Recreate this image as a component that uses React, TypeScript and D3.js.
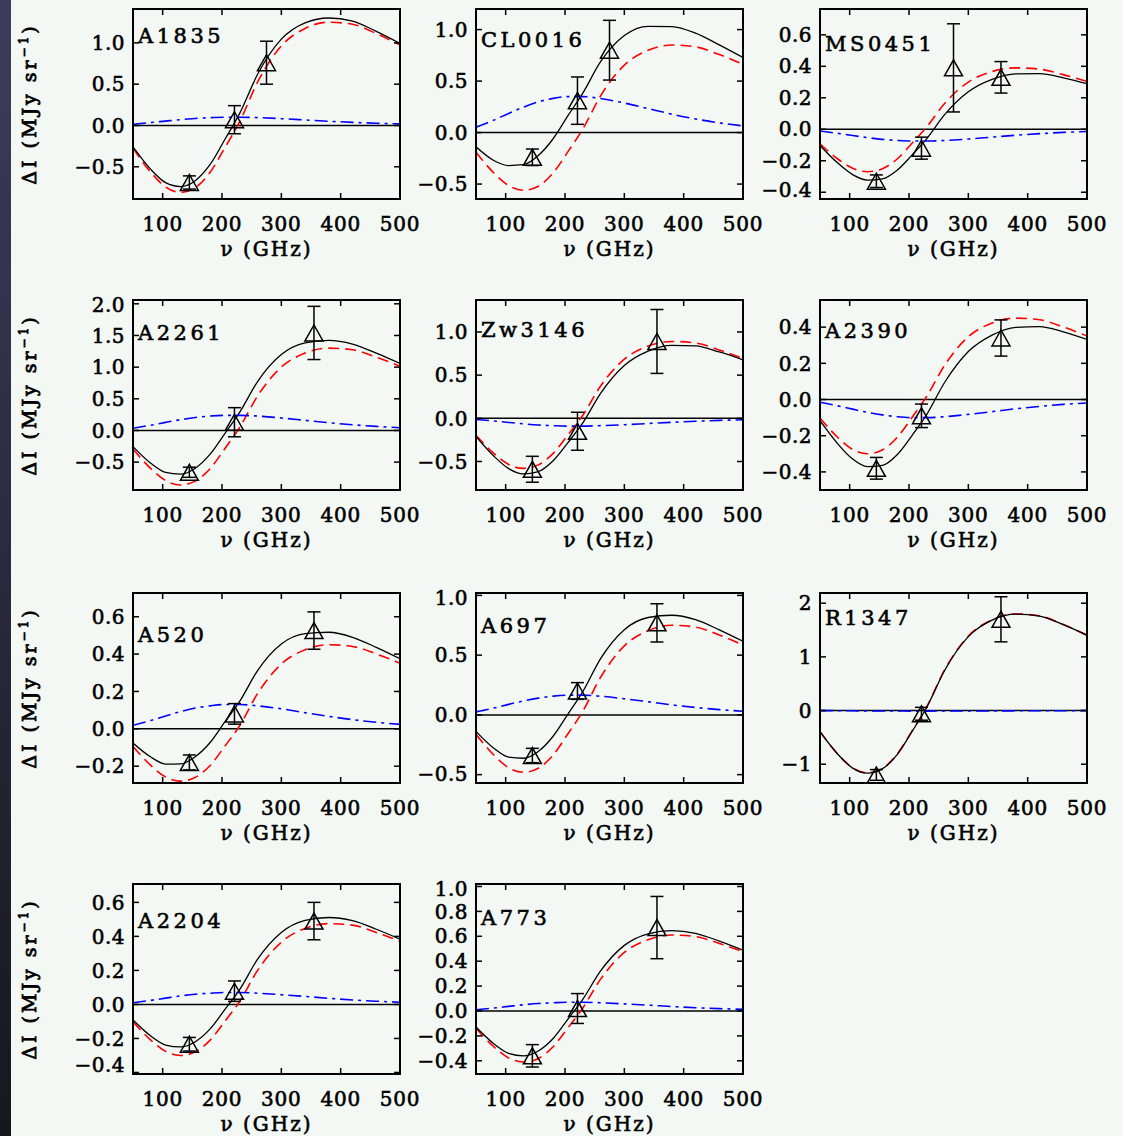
import React from "react";
import * as d3 from "d3";

// Frequency grid (GHz) on which the model spectra are tabulated
const FREQS = [50, 80, 105, 130, 155, 180, 205, 230, 260, 300, 340, 380, 420, 460, 500];

const CLUSTERS = ["A1835", "CL0016", "MS0451", "A2261", "Zw3146", "A2390", "A520", "A697", "R1347", "A2204", "A773"];

// Thermal SZ model, MJy/sr
const THERMAL = [
  [-0.275, -0.567, -0.745, -0.81, -0.753, -0.567, -0.267, 0.05, 0.525, 0.963, 1.175, 1.25, 1.225, 1.113, 0.975],
  [-0.19, -0.392, -0.515, -0.56, -0.521, -0.392, -0.185, 0.034, 0.357, 0.655, 0.799, 0.85, 0.833, 0.757, 0.663],
  [-0.092, -0.189, -0.248, -0.27, -0.251, -0.189, -0.089, 0.016, 0.164, 0.3, 0.367, 0.39, 0.382, 0.347, 0.304],
  [-0.292, -0.602, -0.791, -0.86, -0.8, -0.602, -0.284, 0.052, 0.546, 1.001, 1.222, 1.3, 1.274, 1.157, 1.014],
  [-0.197, -0.406, -0.534, -0.58, -0.539, -0.406, -0.191, 0.036, 0.374, 0.685, 0.837, 0.89, 0.872, 0.792, 0.694],
  [-0.102, -0.21, -0.276, -0.3, -0.279, -0.21, -0.099, 0.018, 0.189, 0.347, 0.423, 0.45, 0.441, 0.401, 0.351],
  [-0.095, -0.196, -0.258, -0.28, -0.26, -0.196, -0.092, 0.018, 0.189, 0.347, 0.423, 0.45, 0.441, 0.401, 0.351],
  [-0.163, -0.336, -0.442, -0.48, -0.446, -0.336, -0.158, 0.03, 0.315, 0.578, 0.705, 0.75, 0.735, 0.668, 0.585],
  [-0.394, -0.812, -1.067, -1.16, -1.079, -0.812, -0.383, 0.072, 0.756, 1.386, 1.692, 1.8, 1.764, 1.602, 1.404],
  [-0.102, -0.21, -0.276, -0.3, -0.279, -0.21, -0.099, 0.019, 0.2, 0.366, 0.447, 0.475, 0.466, 0.423, 0.371],
  [-0.139, -0.287, -0.377, -0.41, -0.381, -0.287, -0.135, 0.024, 0.256, 0.47, 0.573, 0.61, 0.598, 0.543, 0.476],
];

// Kinetic SZ model, MJy/sr
const KINETIC = [
  [0.015, 0.035, 0.053, 0.071, 0.085, 0.095, 0.1, 0.1, 0.095, 0.082, 0.067, 0.051, 0.038, 0.027, 0.019],
  [0.052, 0.121, 0.186, 0.248, 0.298, 0.332, 0.349, 0.349, 0.331, 0.287, 0.233, 0.179, 0.132, 0.094, 0.065],
  [-0.011, -0.026, -0.04, -0.053, -0.064, -0.071, -0.075, -0.075, -0.071, -0.062, -0.05, -0.038, -0.028, -0.02, -0.014],
  [0.036, 0.083, 0.128, 0.17, 0.204, 0.228, 0.239, 0.239, 0.227, 0.197, 0.16, 0.123, 0.09, 0.064, 0.044],
  [-0.013, -0.031, -0.048, -0.064, -0.077, -0.085, -0.09, -0.09, -0.085, -0.074, -0.06, -0.046, -0.034, -0.024, -0.017],
  [-0.015, -0.035, -0.053, -0.071, -0.085, -0.095, -0.1, -0.1, -0.095, -0.082, -0.067, -0.051, -0.038, -0.027, -0.019],
  [0.019, 0.045, 0.069, 0.092, 0.111, 0.123, 0.13, 0.13, 0.123, 0.107, 0.086, 0.067, 0.049, 0.035, 0.024],
  [0.025, 0.057, 0.088, 0.117, 0.14, 0.157, 0.165, 0.165, 0.156, 0.135, 0.11, 0.084, 0.062, 0.044, 0.031],
  [-0.001, -0.003, -0.005, -0.007, -0.009, -0.009, -0.01, -0.01, -0.009, -0.008, -0.007, -0.005, -0.004, -0.003, -0.002],
  [0.01, 0.024, 0.037, 0.05, 0.06, 0.066, 0.07, 0.07, 0.066, 0.057, 0.047, 0.036, 0.026, 0.019, 0.013],
  [0.01, 0.024, 0.037, 0.05, 0.06, 0.066, 0.07, 0.07, 0.066, 0.057, 0.047, 0.036, 0.026, 0.019, 0.013],
];

// Total SZ model (thermal + kinetic), MJy/sr
const TOTAL = [
  [-0.26, -0.532, -0.692, -0.739, -0.668, -0.472, -0.167, 0.15, 0.62, 1.045, 1.242, 1.301, 1.263, 1.14, 0.994],
  [-0.138, -0.271, -0.32, -0.312, -0.223, -0.06, 0.164, 0.383, 0.688, 0.942, 1.032, 1.029, 0.965, 0.851, 0.728],
  [-0.103, -0.215, -0.288, -0.323, -0.315, -0.26, -0.164, -0.059, 0.093, 0.238, 0.317, 0.352, 0.354, 0.327, 0.29],
  [-0.256, -0.519, -0.663, -0.69, -0.596, -0.374, -0.045, 0.291, 0.773, 1.198, 1.382, 1.423, 1.364, 1.221, 1.058],
  [-0.21, -0.437, -0.582, -0.644, -0.616, -0.491, -0.281, -0.054, 0.289, 0.611, 0.777, 0.844, 0.838, 0.768, 0.677],
  [-0.117, -0.245, -0.329, -0.371, -0.364, -0.305, -0.199, -0.082, 0.094, 0.265, 0.356, 0.399, 0.403, 0.374, 0.332],
  [-0.076, -0.151, -0.189, -0.188, -0.149, -0.073, 0.038, 0.148, 0.312, 0.454, 0.509, 0.517, 0.49, 0.436, 0.375],
  [-0.138, -0.279, -0.354, -0.363, -0.306, -0.179, 0.007, 0.195, 0.471, 0.713, 0.815, 0.834, 0.797, 0.712, 0.616],
  [-0.395, -0.815, -1.072, -1.167, -1.088, -0.821, -0.393, 0.062, 0.747, 1.378, 1.685, 1.795, 1.76, 1.599, 1.402],
  [-0.092, -0.186, -0.239, -0.25, -0.219, -0.144, -0.029, 0.089, 0.266, 0.423, 0.494, 0.511, 0.492, 0.442, 0.384],
  [-0.129, -0.263, -0.34, -0.36, -0.321, -0.221, -0.065, 0.094, 0.322, 0.527, 0.62, 0.646, 0.624, 0.562, 0.489],
];

// Measured band fluxes
const OBS_FREQ = [
  [145, 221, 275], [145, 221, 275], [145, 221, 275, 355],
  [145, 221, 355], [145, 221, 355], [145, 221, 355],
  [145, 221, 355], [145, 221, 355], [145, 221, 355],
  [145, 221, 355], [145, 221, 355],
];
const OBS_VALUE = [
  [-0.69, 0.07, 0.76], [-0.24, 0.31, 0.8], [-0.33, -0.12, 0.39, 0.33],
  [-0.66, 0.13, 1.54], [-0.59, -0.15, 0.89], [-0.38, -0.09, 0.34],
  [-0.18, 0.08, 0.526], [-0.34, 0.2, 0.77], [-1.2, -0.06, 1.7],
  [-0.234, 0.078, 0.49], [-0.36, 0.02, 0.67],
];
const OBS_ERROR = [
  [0.08, 0.17, 0.26], [0.08, 0.23, 0.29], [0.04, 0.07, 0.28, 0.1],
  [0.08, 0.23, 0.42], [0.15, 0.22, 0.37], [0.06, 0.065, 0.1],
  [0.04, 0.055, 0.1], [0.06, 0.07, 0.16], [0.1, 0.12, 0.42],
  [0.04, 0.06, 0.11], [0.09, 0.12, 0.25],
];

// Axes
const X_DOMAIN = [50, 500];
const X_TICKS = [100, 200, 300, 400, 500];
const Y_DOMAINS = [
  [-0.89, 1.41], [-0.645, 1.2], [-0.443, 0.764],
  [-0.94, 2.06], [-0.83, 1.37], [-0.5, 0.55],
  [-0.29, 0.727], [-0.57, 1.02], [-1.35, 2.19],
  [-0.409, 0.708], [-0.506, 1.02],
];
const Y_TICKS = [
  [-0.5, 0, 0.5, 1.0], [-0.5, 0, 0.5, 1.0], [-0.4, -0.2, 0, 0.2, 0.4, 0.6],
  [-0.5, 0, 0.5, 1.0, 1.5, 2.0], [-0.5, 0, 0.5, 1.0], [-0.4, -0.2, 0, 0.2, 0.4],
  [-0.2, 0, 0.2, 0.4, 0.6], [-0.5, 0, 0.5, 1.0], [-1, 0, 1, 2],
  [-0.4, -0.2, 0, 0.2, 0.4, 0.6], [-0.4, -0.2, 0, 0.2, 0.4, 0.6, 0.8, 1.0],
];
const Y_DECIMALS = [1, 1, 1, 1, 1, 1, 1, 1, 0, 1, 1];

// Layout
const COL_LEFT = [133, 476, 820];
const ROW_TOP = [9, 300, 593, 884];
const PW = 267;
const PH = 190;
const NAME_DY = [34, 38, 42, 40, 37, 38, 49, 40, 32, 44, 41];

const FONT = "'DejaVu Serif', 'Liberation Serif', serif";
const BG = "#f4f8f4";

export default function App() {
  const panels = CLUSTERS.map((name, i) => {
    const col = i % 3;
    const row = Math.floor(i / 3);
    const x0 = COL_LEFT[col];
    const y0 = ROW_TOP[row];
    const x = d3.scaleLinear().domain(X_DOMAIN).range([x0, x0 + PW]);
    const y = d3.scaleLinear().domain(Y_DOMAINS[i]).range([y0 + PH, y0]);
    const line = d3
      .line<number>()
      .x((_, j) => x(FREQS[j]))
      .y((d) => y(d))
      .curve(d3.curveMonotoneX);
    const fmt = d3.format(Y_DECIMALS[i] === 0 ? "d" : ".1f");
    const clipId = `clip-${i}`;
    const yLab = (v: number) => Math.max(y0 + 5, Math.min(y0 + PH - 9, y(v)));

    return (
      <g key={name}>
        <defs>
          <clipPath id={clipId}>
            <rect x={x0} y={y0} width={PW} height={PH} />
          </clipPath>
        </defs>
        <g clipPath={`url(#${clipId})`}>
          <line x1={x0} x2={x0 + PW} y1={y(0)} y2={y(0)} stroke="#000" strokeWidth={1.5} />
          <path d={line(THERMAL[i]) || ""} fill="none" stroke="#ff0000" strokeWidth={1.6} strokeDasharray="11,6" />
          <path d={line(TOTAL[i]) || ""} fill="none" stroke="#000" strokeWidth={1.3} />
          <path d={line(KINETIC[i]) || ""} fill="none" stroke="#0000ff" strokeWidth={1.6} strokeDasharray="13,5,3,5" />
          {OBS_FREQ[i].map((f, j) => {
            const cx = x(f);
            const cy = y(OBS_VALUE[i][j]);
            const yt = y(OBS_VALUE[i][j] + OBS_ERROR[i][j]);
            const yb = y(OBS_VALUE[i][j] - OBS_ERROR[i][j]);
            return (
              <g key={j} stroke="#000" strokeWidth={1.5} fill="none">
                <line x1={cx} x2={cx} y1={yt} y2={yb} />
                <line x1={cx - 6.5} x2={cx + 6.5} y1={yt} y2={yt} />
                <line x1={cx - 6.5} x2={cx + 6.5} y1={yb} y2={yb} />
                <path d={`M${cx - 9},${cy + 8}L${cx},${cy - 8}L${cx + 9},${cy + 8}Z`} />
              </g>
            );
          })}
        </g>
        <rect x={x0} y={y0} width={PW} height={PH} fill="none" stroke="#000" strokeWidth={2} />
        {X_TICKS.filter((t) => t < X_DOMAIN[1]).map((t) => (
          <g key={`xt${t}`} stroke="#000" strokeWidth={1.5}>
            <line x1={x(t)} x2={x(t)} y1={y0 + PH} y2={y0 + PH - 6} />
            <line x1={x(t)} x2={x(t)} y1={y0} y2={y0 + 6} />
          </g>
        ))}
        {Y_TICKS[i].map((t) => (
          <g key={`yt${t}`} stroke="#000" strokeWidth={1.5}>
            <line x1={x0} x2={x0 + 6} y1={y(t)} y2={y(t)} />
            <line x1={x0 + PW} x2={x0 + PW - 6} y1={y(t)} y2={y(t)} />
          </g>
        ))}
        <g fontFamily={FONT} fontSize={20} fill="#000" stroke="#000" strokeWidth={0.6}>
          {X_TICKS.map((t) => (
            <text key={`xl${t}`} x={x(t)} y={y0 + PH + 32} textAnchor="middle" letterSpacing={0.8}>
              {t}
            </text>
          ))}
          {Y_TICKS[i].map((t) => (
            <text key={`yl${t}`} x={x0 - 8} y={yLab(t)} dy="0.36em" textAnchor="end" letterSpacing={0.5}>
              {fmt(t)}
            </text>
          ))}
          <text x={x0 + 5} y={y0 + NAME_DY[i]} letterSpacing={3.5} fontSize={21}>
            {name}
          </text>
          <text x={x0 + PW / 2} y={y0 + PH + 57} textAnchor="middle" letterSpacing={2}>
            ν (GHz)
          </text>
          {col === 0 && (
            <text
              transform={`translate(${x0 - 97},${y0 + PH / 2}) rotate(-90)`}
              textAnchor="middle"
              fontSize={19}
              letterSpacing={3}
              strokeWidth={0.8}
            >
              ΔI (MJy sr
              <tspan fontSize={12} dy={-8}>−1</tspan>
              <tspan dy={8}>)</tspan>
            </text>
          )}
        </g>
      </g>
    );
  });

  return (
    <div style={{ position: "absolute", left: 0, top: 0 }}>
      <svg width={1123} height={1136} style={{ display: "block" }}>
        <defs>
          <linearGradient id="strip" x1="0" y1="0" x2="0" y2="1">
            <stop offset="0" stopColor="#3d3c5c" />
            <stop offset="1" stopColor="#17171f" />
          </linearGradient>
        </defs>
        <rect width={1123} height={1136} fill={BG} />
        <rect x={0} y={0} width={11} height={1136} fill="url(#strip)" />
        {panels}
      </svg>
    </div>
  );
}
